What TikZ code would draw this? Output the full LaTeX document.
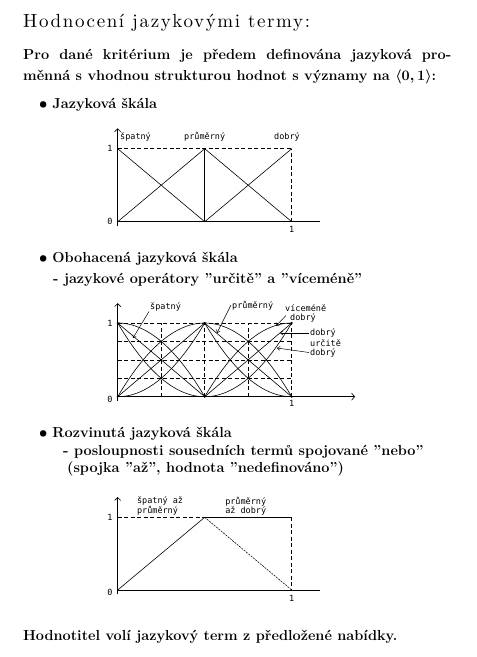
\documentclass[tikz,border=0pt]{standalone}
\usepackage{fontspec}
\usepackage{amsmath}
\newfontfamily\labfont{DejaVu Sans Mono}
\newfontfamily\titlefont{lmroman10-regular.otf}[LetterSpace=8.5]
\usetikzlibrary{arrows.meta}
\begin{document}
\begin{tikzpicture}[x=1pt,y=-1pt,
  title/.style={anchor=base west, inner sep=0pt, font=\titlefont\fontsize{19}{22}\selectfont},
  txt/.style={anchor=base west, inner sep=0pt, font=\fontsize{14.5}{17}\selectfont\bfseries\boldmath},
  lbl/.style={inner sep=0pt, font=\labfont\fontsize{8.5}{9}\selectfont, align=left},
  axis/.style={line width=0.65pt},
  yax/.style={line width=0.65pt, -{Straight Barb[length=3pt,width=6pt]}},
  xax/.style={line width=0.65pt, -{Straight Barb[length=3pt,width=7pt]}},
  ln/.style={line width=0.6pt},
  dsh/.style={line width=0.6pt, dash pattern=on 4pt off 2.5pt},
  fdsh/.style={line width=0.55pt, dash pattern=on 2pt off 1pt},
  ptr/.style={line width=0.5pt, -{Straight Barb[length=2.5pt,width=4pt]}},
  dot/.style={circle, fill=black, inner sep=0pt, minimum size=2.2pt}
]
\useasboundingbox (0,0) rectangle (477,657);

% ---------- texts ----------
\node[title] (t0) at (23,27) {Hodnocení jazykovými termy:};
\node[txt] (p1) at (23,59) {\makebox[428pt][s]{Pro dané kritérium je předem definována jazyková pro-}};
\node[txt] (p2) at (23,80) {měnná s vhodnou strukturou hodnot s významy na $\langle 0,1\rangle$:};
\node[txt] (b1) at (39,108) {$\bullet$\hspace{5pt}Jazyková škála};
\node[txt] (b2) at (39,262) {$\bullet$\hspace{5pt}Obohacená jazyková škála};
\node[txt] (b2s) at (53,283) {- jazykové operátory ''určitě'' a ''víceméně''};
\node[txt] (b3) at (39,437) {$\bullet$\hspace{5pt}Rozvinutá jazyková škála};
\node[txt] (b3s) at (63,455) {- posloupnosti sousedních termů spojované ''nebo''};
\node[txt] (b3t) at (67,472) {(spojka ''až'', hodnota ''nedefinováno'')};
\node[txt] (fin) at (23,640) {Hodnotitel volí jazykový term z předložené nabídky.};

% ---------- diagram 1 ----------
\begin{scope}[xshift=117.7pt, yshift=-221.7pt, x=174pt, y=73pt]
  \draw[yax] (0,-0.06) -- (0,1.28);
  \draw[axis] (0,0) -- (1.163,0);
  \draw[dsh] (0,1) -- (1,1);
  \draw[dsh] (1,0) -- (1,1);
  \draw[ln] (0.5,0) -- (0.5,1);
  \draw[ln] (0,1) -- (0.5,0);
  \draw[ln] (0,0) -- (0.5,1) -- (1,0);
  \draw[ln] (0.5,0) -- (1,1);
  \node[lbl, anchor=west] (d1s) at (0.013,1.16) {špatný};
  \node[lbl] (d1p) at (0.5,1.16) {průměrný};
  \node[lbl] (d1d) at (0.973,1.16) {dobrý};
  \node[lbl] (d1y1) at (-0.044,1) {1};
  \node[lbl] (d1y0) at (-0.044,0) {0};
  \node[lbl] (d1x1) at (1,-0.11) {1};
\end{scope}

% ---------- diagram 2 ----------
\begin{scope}[xshift=117.7pt, yshift=-396.7pt, x=174pt, y=73.7pt]
  \foreach \v in {0.25,0.5,0.75,1} {
    \draw[dsh] (0,\v) -- (1,\v);
    \draw[dsh] (\v,0) -- (\v,1);
  }
  \draw[yax] (0,-0.06) -- (0,1.27);
  \draw[xax] (0,0) -- (1.364,0);
  % lines
  \draw[ln] (0,1) -- (0.5,0);
  \draw[ln] (0,0) -- (0.5,1) -- (1,0);
  \draw[ln] (0.5,0) -- (1,1);
  % curves
  \draw[ln] plot[domain=0:0.5, samples=41, smooth] (\x,{(1-2*\x)*(1-2*\x)});
  \draw[ln] plot[domain=0:0.5, samples=41, smooth] (\x,{1-4*\x*\x});
  \draw[ln] plot[domain=0:0.5, samples=41, smooth] (\x,{4*\x*\x});
  \draw[ln] plot[domain=0:0.5, samples=41, smooth] (\x,{1-(1-2*\x)*(1-2*\x)});
  \draw[ln] plot[domain=0.5:1, samples=41, smooth] (\x,{(2-2*\x)*(2-2*\x)});
  \draw[ln] plot[domain=0.5:1, samples=41, smooth] (\x,{1-(2*\x-1)*(2*\x-1)});
  \draw[ln] plot[domain=0.5:1, samples=41, smooth] (\x,{(2*\x-1)*(2*\x-1)});
  \draw[ln] plot[domain=0.5:1, samples=41, smooth] (\x,{1-(2-2*\x)*(2-2*\x)});
  % dots
  \foreach \px/\py in {0/0,0/1,0.5/0,0.5/1,1/0,1/1,0.25/0.25,0.25/0.5,0.25/0.75,0.75/0.25,0.75/0.5,0.75/0.75}
    \node[dot] at (\px,\py) {};
  \node[lbl] (d2y1) at (-0.044,1) {1};
  \node[lbl] (d2y0) at (-0.044,-0.03) {0};
  \node[lbl] (d2x1) at (1,-0.09) {1};
\end{scope}
% labels and pointers of diagram 2 (absolute)
\node[lbl, anchor=west] (spl) at (150,307) {špatný};
\node[lbl, anchor=west] (prl) at (232,306) {průměrný};
\node[lbl, anchor=west] (vml) at (285,313.5) {víceméně\\\hspace*{5pt}dobrý};
\node[lbl, anchor=west] (dbl) at (310,333) {dobrý};
\node[lbl, anchor=west] (udl) at (310,348.5) {určitě\\dobrý};
\coordinate (sptip) at (133,338);
\coordinate (prtip) at (217,333);
\coordinate (vmtip) at (276,326);
\coordinate (dbtip) at (280,333);
\coordinate (udtip) at (277,348);
\draw[ptr] ([xshift=-1pt]spl.south west) -- (sptip);
\draw[ptr] ([xshift=-1pt,yshift=1pt]prl.west) -- (prtip);
\draw[ptr] ([xshift=1pt,yshift=-2pt]vml.west) -- (vmtip);
\draw[ptr] ([xshift=-1pt]dbl.west) -- (dbtip);
\draw[ptr] ([xshift=-1pt,yshift=-4pt]udl.west) -- (udtip);

% ---------- diagram 3 ----------
\begin{scope}[xshift=117.7pt, yshift=-590pt, x=174pt, y=72.7pt]
  \draw[yax] (0,-0.06) -- (0,1.28);
  \draw[axis] (0,0) -- (1.163,0);
  \draw[dsh] (0,1) -- (0.5,1);
  \draw[ln] (0.5,1) -- (1,1);
  \draw[dsh] (1,1) -- (1,0);
  \draw[ln] (0,0) -- (0.5,1);
  \draw[fdsh] (0.5,1) -- (1,0);
  \node[lbl, anchor=west] (d3a) at (0.11,1.155) {špatný až\\průměrný};
  \node[lbl, anchor=west] (d3b) at (0.617,1.155) {průměrný\\až dobrý};
  \node[lbl] (d3y1) at (-0.044,1) {1};
  \node[lbl] (d3y0) at (-0.044,-0.03) {0};
  \node[lbl] (d3x1) at (1,-0.11) {1};
\end{scope}
\end{tikzpicture}
\end{document}
